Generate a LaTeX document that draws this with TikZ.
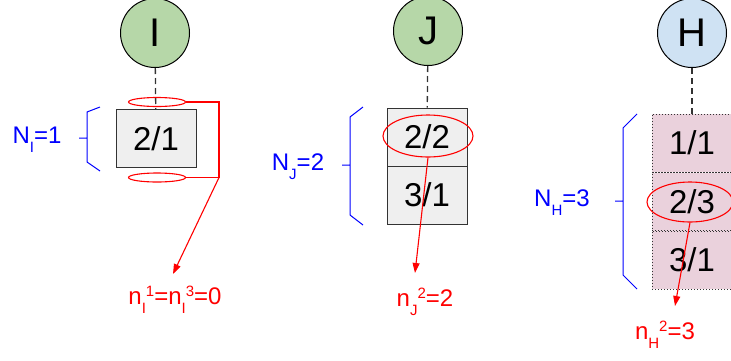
\documentclass[tikz,border=0pt]{standalone}
\usepackage{fontspec}
\setmainfont{Liberation Sans}
\usepackage{xcolor}
\usepackage{tikz}
\usetikzlibrary{arrows.meta,shapes.geometric}
\definecolor{NodeGreen}{HTML}{B6D7A8}
\definecolor{NodeBlue}{HTML}{CFE2F3}
\definecolor{CellGray}{HTML}{EFEFEF}
\definecolor{CellPink}{HTML}{EAD1DC}
\definecolor{MarkRed}{HTML}{FF0000}
\definecolor{CountBlue}{HTML}{0000FF}
\newcommand{\lowidx}[1]{\raisebox{-9pt}{\fontsize{15}{17}\selectfont #1}}
\newcommand{\highidx}[1]{\raisebox{8pt}{\fontsize{15}{17}\selectfont #1}}

\begin{document}
\begin{tikzpicture}[x=1pt,y=-1pt,
          vtx/.style={circle,draw=black,line width=1pt,minimum size=69pt,inner sep=0pt,
            font=\fontsize{40}{44}\selectfont},
          cell/.style={draw=black!80,line width=1pt,fill=CellGray,minimum width=80pt,
            minimum height=58pt,inner sep=0pt,font=\fontsize{33}{38}\selectfont},
          dcell/.style={draw=black!80,line width=1pt,dotted,fill=CellPink,minimum width=80pt,
            minimum height=58pt,inner sep=0pt,font=\fontsize{33}{38}\selectfont},
          ring/.style={ellipse,draw=MarkRed,line width=1.1pt,inner sep=0pt},
          link/.style={draw=black!80,line width=1.3pt,dash pattern=on 6pt off 4pt},
          ar/.style={-{Triangle[length=10pt,width=7pt]},MarkRed,line width=1.1pt},
          brc/.style={CountBlue,line width=1pt},
          cnt/.style={text=CountBlue,font=\fontsize{24}{27}\selectfont,inner sep=0pt},
          res/.style={text=MarkRed,font=\fontsize{24}{27}\selectfont,inner sep=0pt}]
        \useasboundingbox (0,0) rectangle (731,360);
        % vertices
        \node[vtx,fill=NodeGreen] (I) at (155,33) {I};
        \node[vtx,fill=NodeGreen] (J) at (428,31) {J};
        \node[vtx,fill=NodeBlue]  (H) at (692,33) {H};
        % cells
        \node[cell] (I1) at (156,138.5) {2/1};
        \node[cell] (J1) at (427,137) {2/2};
        \node[cell] (J2) at (427,195) {3/1};
        \node[dcell] (H1) at (692,143) {1/1};
        \node[dcell] (H2) at (692,201.5) {2/3};
        \node[dcell] (H3) at (692,260) {3/1};
        \draw[link] (I) -- (I1);
        \draw[link] (J) -- (J1);
        \draw[link] (H) -- (H1);
        % braces and counts
        \draw[brc] (100,107) -- (87,112) -- (87,162) -- (100,171) (79,138) -- (87,138);
        \draw[brc] (363,107) -- (350,117) -- (350,215) -- (363,225) (342,165) -- (350,165);
        \draw[brc] (637,114) -- (623,128) -- (623,275) -- (637,289) (615,201) -- (623,201);
        \node[cnt] (NI) at (37,140) {N\lowidx{I}=1};
        \node[cnt] (NJ) at (298,167) {N\lowidx{J}=2};
        \node[cnt] (NH) at (562,203) {N\lowidx{H}=3};
        % marked slots
        \node[ring,minimum width=57pt,minimum height=9pt] (eI1) at (157,102) {};
        \node[ring,minimum width=57pt,minimum height=9pt] (eI3) at (157,177.5) {};
        \node[ring,minimum width=90pt,minimum height=42pt] (eJ) at (428,136) {};
        \node[ring,minimum width=86pt,minimum height=40pt] (eH) at (690,202) {};
        \coordinate (jI) at (219,177.5);
        \coordinate (tipI) at (173,274);
        \coordinate (tipJ) at (415,273);
        \coordinate (tipH) at (675,306);
        \draw[MarkRed,line width=1.1pt] (eI1.east) -| (jI) (eI3.east) -- (jI);
        \draw[ar] (jI) -- (tipI);
        \draw[ar] (eJ.south) -- (tipJ);
        \draw[ar] (eH.south) -- (tipH);
        \node[res] (nI) at (175,300) {n\lowidx{I}\highidx{1}=n\lowidx{I}\highidx{3}=0};
        \node[res] (nJ) at (425,302) {n\lowidx{J}\highidx{2}=2};
        \node[res] (nH) at (665,335) {n\lowidx{H}\highidx{2}=3};
      \end{tikzpicture}
\end{document}
